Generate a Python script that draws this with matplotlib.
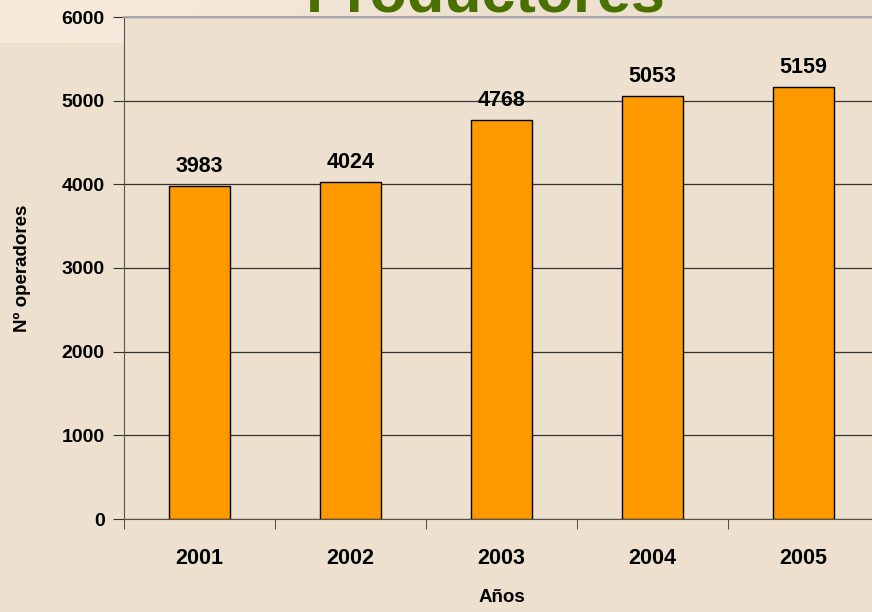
import numpy as np
import matplotlib.pyplot as plt
from matplotlib.colors import LinearSegmentedColormap

# datos
anios = ['2001', '2002', '2003', '2004', '2005']
operadores = [3983, 4024, 4768, 5053, 5159]
yticks = [0, 1000, 2000, 3000, 4000, 5000, 6000]

plt.rcParams['font.family'] = ['Liberation Sans', 'DejaVu Sans']
fondo = '#EDE0CE'

fig = plt.figure(figsize=(8.72, 6.12), dpi=100, facecolor=fondo)

# franja clara arriba a la izquierda
bg = fig.add_axes([0, 0.93, 0.6, 0.07], zorder=-1)
grad = np.linspace(0, 1, 256).reshape(1, -1)
cmap = LinearSegmentedColormap.from_list('g', ['#F7EADC', '#F5E7D8', fondo])
bg.imshow(grad, aspect='auto', cmap=cmap, extent=[0, 1, 0, 1])
bg.axis('off')

ax = fig.add_axes([124/872, 1 - 519/612, 755/872, 502/612])
ax.set_facecolor(fondo)
x = np.arange(len(anios))
ax.bar(x, operadores, width=0.41, color='#FF9900', edgecolor='black',
       linewidth=1, zorder=3)

for xi, v in zip(x, operadores):
    ax.text(xi, v + 110, str(v), ha='center', va='bottom',
            fontsize=15.5, fontweight='bold')

ax.set_xlim(-0.5, len(anios) - 0.5)
ax.set_ylim(0, 6000)
ax.set_yticks(yticks)
ax.set_yticklabels([str(t) for t in yticks], fontsize=14, fontweight='bold')
ax.set_xticks(x)
ax.set_xticklabels(anios, fontsize=15.5, fontweight='bold')
ax.tick_params(axis='x', length=0, pad=21)
ax.set_xticks(np.arange(-0.5, len(anios)), minor=True)
ax.tick_params(axis='x', which='minor', length=7, color='#333333', direction='out')
ax.tick_params(axis='y', length=8, color='#333333', pad=6)

ax.grid(axis='y', color='#333333', linewidth=0.9, zorder=0)
ax.set_axisbelow(True)
ax.spines['right'].set_visible(False)
ax.spines['top'].set_color('#A8A8A8')
ax.spines['top'].set_linewidth(1.5)
ax.spines['left'].set_color('#555555')
ax.spines['bottom'].set_color('#555555')

ax.set_xlabel('Años', fontsize=13.5, fontweight='bold', labelpad=14)
ax.set_ylabel('Nº operadores', fontsize=13.5, fontweight='bold', labelpad=22)

fig.text(486/872, 1 - 11/612, 'Productores', ha='center', va='baseline',
         fontsize=44, fontweight='bold', color='#4A7000')

fig.savefig('out.png', dpi=100, facecolor=fondo)
